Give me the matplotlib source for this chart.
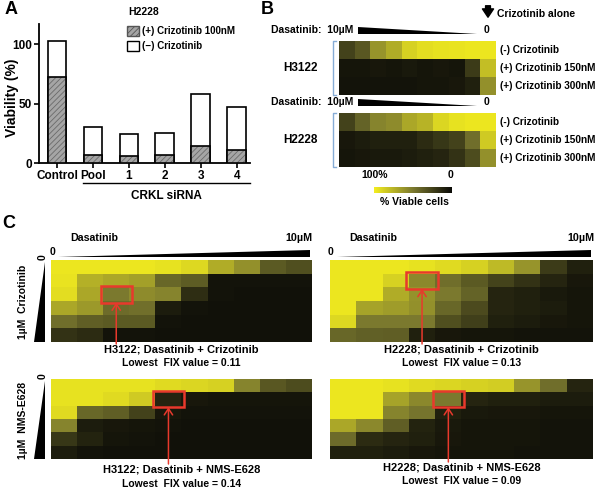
import numpy as np
import matplotlib
matplotlib.use('Agg')
import matplotlib.pyplot as plt
from matplotlib.colors import LinearSegmentedColormap
from matplotlib.patches import Rectangle, Polygon, Patch
from matplotlib.transforms import blended_transform_factory

plt.rcParams['font.family'] = ['Liberation Sans', 'DejaVu Sans']
plt.rcParams['font.weight'] = 'bold'
plt.rcParams['axes.labelweight'] = 'bold'
plt.rcParams['hatch.linewidth'] = 0.6

# panel A: viability (%) of H2228 after CRKL siRNA
groups = ['Control', 'Pool', '1', '2', '3', '4']
viab_no_criz = [103, 30, 24.5, 25.5, 58, 47]
viab_criz = [72, 7, 6, 6.5, 14, 11]

# panel B: fraction viable, columns = dasatinib 10uM -> 0
b_rows = ['(-) Crizotinib', '(+) Crizotinib 150nM', '(+) Crizotinib 300nM']
b_h3122 = [
    [0.25, 0.35, 0.62, 0.72, 0.88, 0.93, 0.95, 0.96, 0.97, 0.97],
    [0.05, 0.05, 0.06, 0.05, 0.07, 0.05, 0.06, 0.05, 0.22, 0.80],
    [0.04, 0.04, 0.04, 0.04, 0.04, 0.05, 0.05, 0.06, 0.10, 0.60],
]
b_h2228 = [
    [0.25, 0.40, 0.55, 0.58, 0.70, 0.75, 0.90, 0.95, 0.97, 0.97],
    [0.06, 0.08, 0.10, 0.10, 0.10, 0.15, 0.20, 0.25, 0.45, 0.85],
    [0.05, 0.06, 0.07, 0.07, 0.08, 0.10, 0.12, 0.18, 0.30, 0.60],
]

# panel C: rows = second drug 0 -> 1uM, columns = dasatinib 0 -> 10uM
c_h3122_criz = [
    [0.97, 0.97, 0.97, 0.97, 0.95, 0.91, 0.72, 0.60, 0.36, 0.31],
    [0.96, 0.74, 0.70, 0.67, 0.42, 0.37, 0.04, 0.04, 0.04, 0.04],
    [0.93, 0.70, 0.50, 0.58, 0.55, 0.16, 0.04, 0.03, 0.03, 0.03],
    [0.70, 0.64, 0.44, 0.46, 0.08, 0.04, 0.03, 0.03, 0.03, 0.03],
    [0.45, 0.38, 0.36, 0.36, 0.04, 0.03, 0.03, 0.03, 0.03, 0.03],
    [0.18, 0.15, 0.04, 0.04, 0.03, 0.03, 0.03, 0.03, 0.03, 0.03],
]
c_h2228_criz = [
    [0.97, 0.97, 0.97, 0.95, 0.92, 0.88, 0.78, 0.62, 0.22, 0.10],
    [0.97, 0.97, 0.88, 0.57, 0.45, 0.36, 0.26, 0.18, 0.12, 0.06],
    [0.97, 0.97, 0.72, 0.61, 0.50, 0.40, 0.12, 0.10, 0.07, 0.05],
    [0.97, 0.68, 0.65, 0.60, 0.42, 0.29, 0.12, 0.10, 0.08, 0.05],
    [0.91, 0.50, 0.50, 0.50, 0.31, 0.24, 0.10, 0.08, 0.06, 0.05],
    [0.42, 0.39, 0.38, 0.10, 0.06, 0.05, 0.05, 0.04, 0.04, 0.04],
]
c_h3122_nms = [
    [0.95, 0.95, 0.95, 0.95, 0.92, 0.90, 0.88, 0.55, 0.35, 0.30],
    [0.95, 0.95, 0.92, 0.85, 0.12, 0.06, 0.05, 0.05, 0.05, 0.05],
    [0.92, 0.42, 0.38, 0.25, 0.06, 0.04, 0.04, 0.04, 0.04, 0.04],
    [0.55, 0.08, 0.06, 0.05, 0.04, 0.03, 0.03, 0.03, 0.03, 0.03],
    [0.20, 0.11, 0.05, 0.04, 0.03, 0.03, 0.03, 0.03, 0.03, 0.03],
    [0.08, 0.04, 0.03, 0.03, 0.03, 0.03, 0.03, 0.03, 0.03, 0.03],
]
c_h2228_nms = [
    [0.97, 0.97, 0.95, 0.92, 0.90, 0.88, 0.86, 0.62, 0.45, 0.12],
    [0.97, 0.97, 0.68, 0.57, 0.50, 0.12, 0.10, 0.10, 0.08, 0.08],
    [0.97, 0.97, 0.55, 0.48, 0.10, 0.07, 0.06, 0.06, 0.05, 0.05],
    [0.70, 0.57, 0.38, 0.11, 0.07, 0.05, 0.05, 0.05, 0.04, 0.04],
    [0.44, 0.15, 0.12, 0.10, 0.06, 0.05, 0.05, 0.05, 0.04, 0.04],
    [0.10, 0.10, 0.08, 0.06, 0.05, 0.05, 0.05, 0.04, 0.04, 0.04],
]
c_titles = ['H3122; Dasatinib + Crizotinib', 'H2228; Dasatinib + Crizotinib',
            'H3122; Dasatinib + NMS-E628', 'H2228; Dasatinib + NMS-E628']
c_fix = ['0.11', '0.13', '0.14', '0.09']
c_best = [(2, 2), (1, 3), (1, 4), (1, 4)]  # (row, col) of lowest FIX

W, H = 600, 493
fig = plt.figure(figsize=(W / 100, H / 100), dpi=100)


def box(x0, y0, x1, y1):
    return [x0 / W, 1 - y1 / H, (x1 - x0) / W, (y1 - y0) / H]


cmap = LinearSegmentedColormap.from_list('viab', ['#0b0b07', '#7b792f', '#f3ed1f'])

# overlay in pixel units for labels and decorations
ov = fig.add_axes([0, 0, 1, 1], zorder=10)
ov.set_xlim(0, W)
ov.set_ylim(H, 0)
ov.axis('off')

# ---------------- A ----------------
ax = fig.add_axes(box(39, 24, 250, 163))
x = np.arange(len(groups))
ax.bar(x, viab_no_criz, width=0.52, color='white', edgecolor='black', lw=1.2, zorder=2)
ax.bar(x, viab_criz, width=0.52, color='#a5a5a5', edgecolor='#6a6a6a', lw=0, hatch='//////', zorder=3)
ax.bar(x, viab_criz, width=0.52, color='none', edgecolor='black', lw=1.2, zorder=4)
ax.set_xlim(-0.5, 5.37)
ax.set_ylim(0, 117)
for s in ['top', 'right']:
    ax.spines[s].set_visible(False)
for s in ['left', 'bottom']:
    ax.spines[s].set_linewidth(1.3)
ax.set_yticks([0, 50, 100])
ax.set_xticks(x, groups)
ax.tick_params(length=3.5, width=1.2, labelsize=8.5, pad=1.5)
ax.set_ylabel('Viability (%)', fontsize=10, fontweight='bold')
ax.yaxis.set_label_coords(-20 / 211, 0.47)
handles = [Patch(facecolor='#a5a5a5', edgecolor='#555555', hatch='//////', lw=1),
           Patch(facecolor='white', edgecolor='black', lw=1)]
ax.legend(handles, ['(+) Crizotinib 100nM', '(\u2212) Crizotinib'], loc='upper left',
          bbox_to_anchor=(127 / W, 1 - 26 / H), bbox_transform=fig.transFigure,
          frameon=False, fontsize=7, handlelength=1.25, handleheight=1.15,
          handletextpad=0.3, labelspacing=0.5, borderpad=0, borderaxespad=0)
ov.text(128, 12, 'H2228', fontsize=7.5, va='center')
tr = blended_transform_factory(ax.transData, ov.transData)
x0s, x1s = x[1] - 0.27, x[-1] + 0.37
ax.plot([x0s, x1s], [183, 183], transform=tr, clip_on=False, color='black', lw=1)
ax.text((x0s + x1s) / 2, 196, 'CRKL siRNA', transform=tr, ha='center', va='center', fontsize=8.5)

# ---------------- B ----------------
for data, top, name in [(b_h3122, 41, 'H3122'), (b_h2228, 113, 'H2228')]:
    hx = fig.add_axes(box(339, top, 495, top + 54))
    hx.imshow(data, cmap=cmap, vmin=0, vmax=1, aspect='auto', interpolation='nearest')
    hx.axis('off')
    for i, lab in enumerate(b_rows):
        hx.text(len(data[0]) - 0.5 + 0.3, i, lab, va='center', ha='left', fontsize=7.2)
    ov.text(300, top + 27, name, ha='center', va='center', fontsize=8.5)
    ov.plot([336, 333, 333, 336], [top, top, top + 54, top + 54], color='#86acd6', lw=1)
    ov.text(271, top - 11, 'Dasatinib:  10\u00b5M', ha='left', va='center', fontsize=7.5)
    ov.add_patch(Polygon([(358, top - 14), (358, top - 7), (477, top - 7)], closed=True,
                         facecolor='black', edgecolor='none'))
    ov.text(486, top - 11, '0', ha='center', va='center', fontsize=7.5)

ov.annotate('', xy=(488, 20), xytext=(488, 3),
            arrowprops=dict(arrowstyle='simple,head_length=0.6,head_width=0.8,tail_width=0.35',
                            color='black', mutation_scale=10))
ov.text(497, 14, 'Crizotinib alone', ha='left', va='center', fontsize=7.5)

cb = fig.add_axes(box(374, 187, 452, 193))
cb.imshow(np.linspace(1, 0, 200)[None, :], cmap=cmap, aspect='auto')
cb.axis('off')
ov.text(375, 175, '100%', ha='center', va='center', fontsize=7.5)
ov.text(451, 175, '0', ha='center', va='center', fontsize=7.5)
ov.text(414, 202, '% Viable cells', ha='center', va='center', fontsize=7.5)

# ---------------- C ----------------
c_mats = [c_h3122_criz, c_h2228_criz, c_h3122_nms, c_h2228_nms]
c_boxes = [(51, 260, 312, 342), (330, 260, 593, 342), (51, 379, 312, 459), (330, 379, 593, 459)]
c_text_y = [(350, 363), (350, 363), (470, 484), (468, 481)]
c_side = ['1\u00b5M  Crizotinib', None, '1\u00b5M  NMS-E628', None]

for k, mat in enumerate(c_mats):
    x0, y0, x1, y1 = c_boxes[k]
    cx = fig.add_axes(box(x0, y0, x1, y1))
    cx.imshow(mat, cmap=cmap, vmin=0, vmax=1, aspect='auto', interpolation='nearest')
    cx.axis('off')
    r, c = c_best[k]
    cx.add_patch(Rectangle((c - 0.6, r - 0.62), 1.2, 1.24, fill=False,
                           edgecolor='#e8392c', lw=1.8, clip_on=False, zorder=5))
    ttr = blended_transform_factory(cx.transData, ov.transData)
    cx.annotate('', xy=(c, r + 0.62), xytext=(c, c_text_y[k][0] - 6), textcoords=ttr,
                arrowprops=dict(arrowstyle='->,head_length=0.45,head_width=0.3',
                                color='#e8392c', lw=1.1, shrinkA=0, shrinkB=0))
    xc = (x0 + x1) / 2
    ov.text(xc, c_text_y[k][0], c_titles[k], ha='center', va='center', fontsize=8)
    ov.text(xc, c_text_y[k][1], 'Lowest  FIX value = ' + c_fix[k], ha='center', va='center', fontsize=7.5)
    if k < 2:
        ov.text(x0 + 19, 238, 'Dasatinib', ha='left', va='center', fontsize=7.7)
        ov.text(x1 + 1, 238, '10\u00b5M', ha='right', va='center', fontsize=7.7)
        ov.text(x0 + 1, 252, '0', ha='center', va='center', fontsize=7.5)
        ov.add_patch(Polygon([(x0 + 7, y0 - 3), (x1 - 2, y0 - 3), (x1 - 2, y0 - 10)],
                             closed=True, facecolor='black', edgecolor='none'))
    if c_side[k]:
        ov.text(23, (y0 + y1) / 2 + 1, c_side[k], rotation=90, ha='center', va='center', fontsize=7.5)
        ov.text(43, y0 - 3, '0', rotation=90, ha='center', va='center', fontsize=7.5)
        ov.add_patch(Polygon([(45, y0 + 2), (45, y1), (34, y1)], closed=True,
                             facecolor='black', edgecolor='none'))

ov.text(5, 10, 'A', fontsize=13, va='center', ha='left')
ov.text(261, 10, 'B', fontsize=13, va='center', ha='left')
ov.text(2, 224, 'C', fontsize=13, va='center', ha='left')

fig.savefig('out.png', dpi=100)
